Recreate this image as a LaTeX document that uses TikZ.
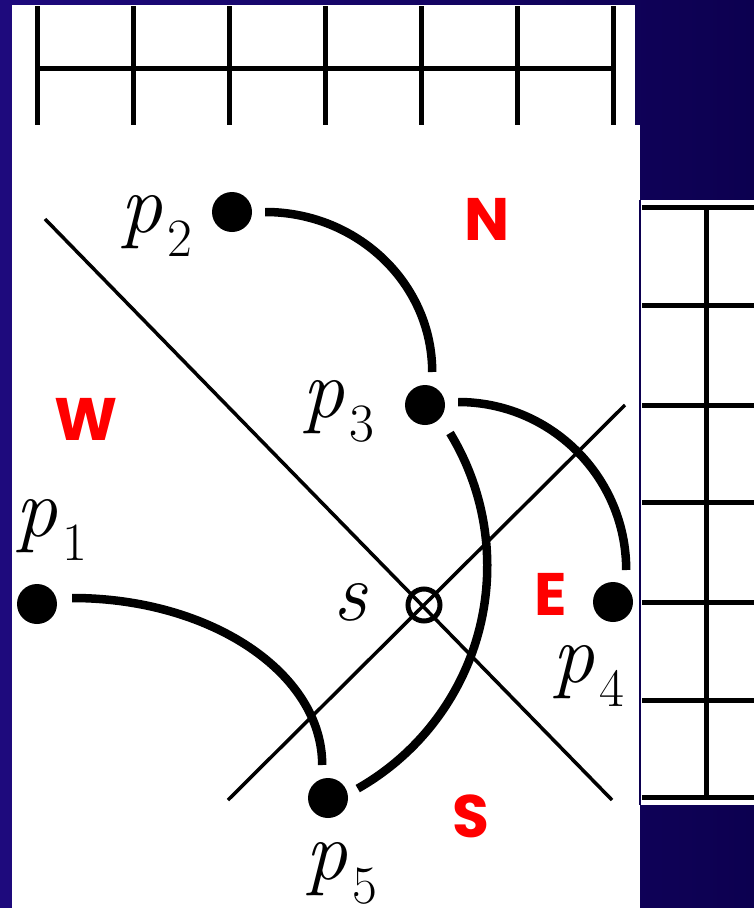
\documentclass[tikz,border=0pt]{standalone}
\usepackage{fontspec}
\newfontfamily\dirfont{Poppins}
\definecolor{bgleft}{RGB}{30,10,125}
\definecolor{bgright}{RGB}{12,0,80}
\newcommand\plab[1]{\textit{p}\kern5pt\raisebox{-24pt}{\fontsize{54}{54}\selectfont #1}}

\begin{document}
\begin{tikzpicture}[x=1pt, y=1pt,
  dot/.style={circle, fill=black, minimum size=40pt, inner sep=0pt},
  lab/.style={anchor=base west, inner sep=0pt, font=\fontsize{84}{84}\selectfont},
  dir/.style={anchor=base, inner sep=0pt, text=red, font=\dirfont\bfseries\fontsize{60}{60}\selectfont},
  arcline/.style={line width=8.5pt},
  gridline/.style={line width=5pt},
  axis/.style={line width=3.5pt}]
  \shade[left color=bgleft, right color=bgright] (0,0) rectangle (754,-908);
  \useasboundingbox (0,0) rectangle (754,-908);
  \fill[white] (12,-5) rectangle (635,-125);
  \foreach \x in {37,133,229,325,421,517,613}
    \draw[gridline] (\x,-6) -- (\x,-125);
  \draw[gridline] (37,-68) -- (613,-68);
  \fill[white] (640,-200) rectangle (754,-805);
  \foreach \y in {207,305,405,502,602,700,797}
    \draw[gridline] (642,-\y) -- (754,-\y);
  \draw[gridline] (706,-207) -- (706,-797);
  \fill[white] (12,-125) rectangle (640,-908);
  \draw[bgright, line width=1.5pt] (640,-200) -- (640,-805);

  \coordinate (nw) at (45,-219);
  \coordinate (se) at (612,-800);
  \coordinate (sw) at (228,-800);
  \coordinate (ne) at (625,-405);
  \draw[axis] (nw) -- (se);
  \draw[axis] (sw) -- (ne);
  \node[circle, draw, line width=5pt, minimum size=32pt, inner sep=0pt] (s) at (424,-605) {};

  \node[dot] (p1) at (37,-604) {};
  \node[dot] (p2) at (232,-212) {};
  \node[dot] (p3) at (425,-405) {};
  \node[dot] (p4) at (613,-602) {};
  \node[dot] (p5) at (328,-798) {};

  \draw[arcline] ([xshift=13pt]p2.east) arc[start angle=90, end angle=0, x radius=167pt, y radius=160pt];
  \draw[arcline] ([xshift=13pt,yshift=3pt]p3.east) arc[start angle=90, end angle=0, radius=168pt];
  \draw[arcline] ([xshift=15pt,yshift=6pt]p1.east) arc[start angle=90, end angle=0, x radius=250pt, y radius=167pt];
  \draw[arcline] ([shift={(25pt,-28pt)}]p3.center) arc[start angle=31.3, end angle=-60.4, radius=256pt];

  \node[lab] (l1) at (15,-536) {\plab{1}};
  \node[lab] (l2) at (120,-232) {\plab{2}};
  \node[lab] (l3) at (302,-417) {\plab{3}};
  \node[lab] (l4) at (552,-682) {\plab{4}};
  \node[lab] (l5) at (305,-879) {\plab{5}};
  \node[lab] (ls) at (333,-620) {\textit{s}};

  \node[dir] (north) at (487,-240) {N};
  \node[dir] (west) at (86,-440) {W};
  \node[dir] (east) at (551,-615) {E};
  \node[dir] (south) at (471,-837) {S};
\end{tikzpicture}
\end{document}
